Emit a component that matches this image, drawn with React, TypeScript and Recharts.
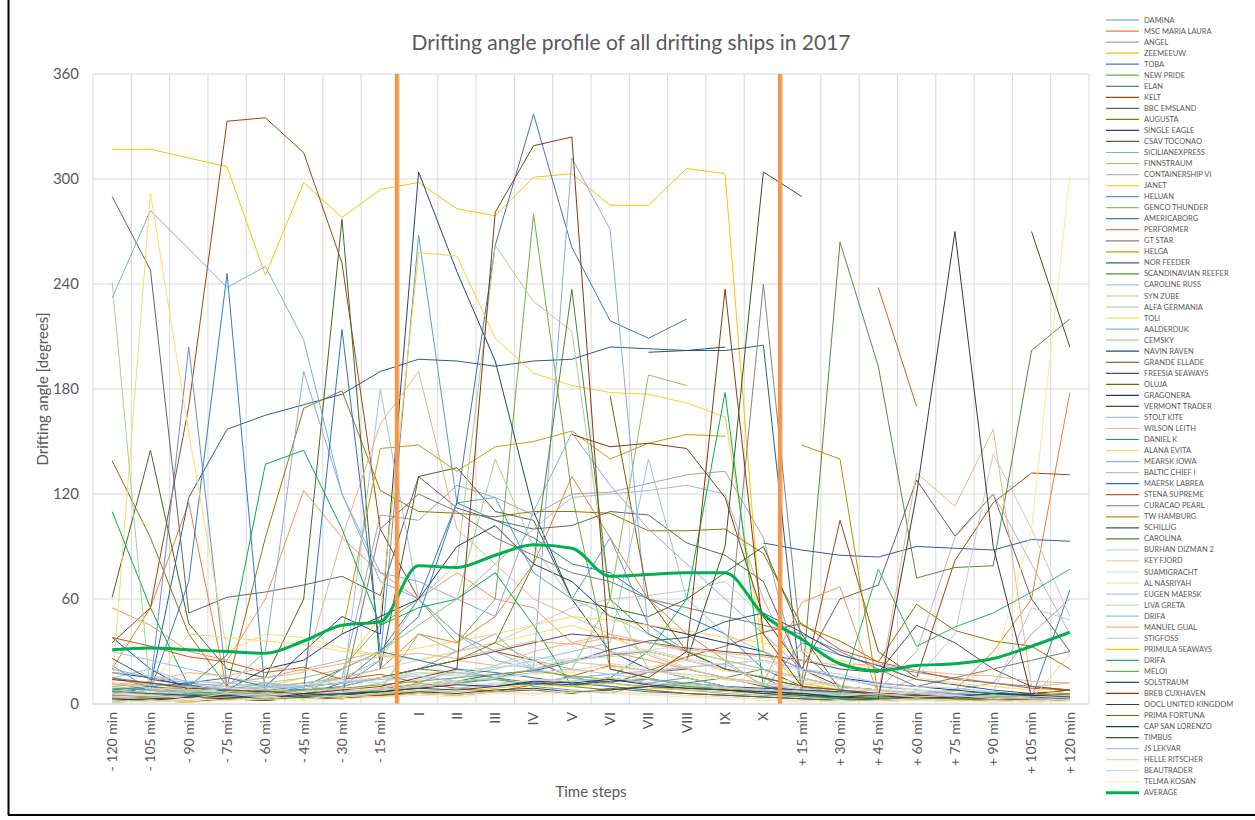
import { LineChart, Line, XAxis, YAxis, CartesianGrid, ReferenceLine } from 'recharts';

const _ = null;

const categories = [
  '- 120 min', '- 105 min', '- 90 min', '- 75 min', '- 60 min', '- 45 min', '- 30 min', '- 15 min',
  'I', 'II', 'III', 'IV', 'V', 'VI', 'VII', 'VIII', 'IX', 'X',
  '+ 15 min', '+ 30 min', '+ 45 min', '+ 60 min', '+ 75 min', '+ 90 min', '+ 105 min', '+ 120 min',
];

const yTicks = [0, 60, 120, 180, 240, 300, 360];

const shipNames = [
  'DAMINA', 'MSC MARIA LAURA', 'ANGEL', 'ZEEMEEUW', 'TOBA', 'NEW PRIDE', 'ELAN', 'KELT', 'BBC EMSLAND', 'AUGUSTA',
  'SINGLE EAGLE', 'CSAV TOCONAO', 'SICILIANEXPRESS', 'FINNSTRAUM', 'CONTAINERSHIP VI', 'JANET', 'HELUAN', 'GENCO THUNDER',
  'AMERICABORG', 'PERFORMER', 'GT STAR', 'HELGA', 'NOR FEEDER', 'SCANDINAVIAN REEFER', 'CAROLINE RUSS', 'SYN ZUBE',
  'ALFA GERMANIA', 'TOLI', 'AALDERDIJK', 'CEMSKY', 'NAVIN RAVEN', 'GRANDE ELLADE', 'FREESIA SEAWAYS', 'OLUJA',
  'GRAGONERA', 'VERMONT TRADER', 'STOLT KITE', 'WILSON LEITH', 'DANIEL K', 'ALANA EVITA', 'MEARSK IOWA', 'BALTIC CHIEF I',
  'MAERSK LABREA', 'STENA SUPREME', 'CURACAO PEARL', 'TW HAMBURG', 'SCHILLIG', 'CAROLINA', 'BURHAN DIZMAN 2', 'KEY FJORD',
  'SUAMIGRACHT', 'AL NASRIYAH', 'EUGEN MAERSK', 'LIVA GRETA', 'DRIFA', 'MANUEL GUAL', 'STIGFOSS', 'PRIMULA SEAWAYS',
  'DRIFA', 'MELOI', 'SOLSTRAUM', 'BREB CUXHAVEN', 'OOCL UNITED KINGDOM', 'PRIMA FORTUNA', 'CAP SAN LORENZO', 'TIMBUS',
  'JS LEKVAR', 'HELLE RITSCHER', 'BEAUTRADER', 'TELMA KOSAN',
];

// drifting angle per ship, one value per time step (null = no record)
const angles: (number | null)[][] = [
  [22, 8, 5, 3, 6, 4, 10, 25, 268, 115, 118, 75, 60, 95, 45, 30, 20, 15, 5, 3, 2, 4, 3, 5, 4, 6],
  [20, 55, 115, 8, 12, 10, 15, 20, 40, 35, 50, 80, 130, 95, 60, 40, 25, 10, 6, 4, 3, 5, 8, 30, 60, 178],
  [8, 6, 5, 7, 9, 12, 15, 108, 105, 125, 118, 108, 120, 121, 126, 131, 133, 95, 10, 5, 4, 6, 8, 12, 40, 60],
  [317, 317, 312, 307, 245, 298, 278, 294, 298, 283, 279, 301, 303, 285, 285, 306, 303, 30, 12, 8, 5, 4, 3, 2, 3, 4],
  [15, 10, 6, 4, 8, 5, 12, 30, 60, 115, 262, 337, 261, 219, 209, 220, _, _, _, _, _, _, _, _, _, _],
  [12, 8, 4, 6, 3, 5, 20, 45, 60, 35, 60, 280, 120, 20, 15, 10, 8, 6, 4, 3, 2, 3, 4, 5, 6, 8],
  [5, 10, 118, 157, 165, 171, 177, 190, 197, 196, 193, 196, 197, 204, 203, 202, 202, 205, 5, 3, 2, 4, 3, 2, 3, 4],
  [35, 55, 170, 333, 335, 315, 252, 100, 60, 40, 30, 25, 15, 12, 18, 20, 15, 10, 8, 105, 30, 15, 82, 115, 132, 131],
  [290, 248, 52, 61, 64, 68, 73, 62, 130, 112, 105, 100, 102, 110, 108, 92, 85, 70, 20, 60, 68, 128, 96, 120, 60, 30],
  [139, 95, 40, 10, 95, 169, 179, 122, 110, 109, 107, 110, 110, 109, 99, 99, 100, 86, 45, 36, 24, 57, 42, 36, 33, 20],
  [38, 20, 8, 5, 10, 30, 50, 40, 304, 247, 196, 110, 60, 30, 20, 15, 10, 8, 5, 4, 3, 6, 5, 4, 3, 5],
  [61, 145, 46, 20, 15, 60, 277, 20, 130, 135, 110, 105, 60, 55, 50, 60, 75, 90, 40, 8, 5, 4, 3, 5, 6, 4],
  [232, 282, 260, 238, 250, 208, 120, 70, 60, 40, 25, 20, 15, 12, 10, 8, 6, 5, 4, 3, 2, 3, 2, 3, 4, 3],
  [55, 45, 30, 25, 60, 122, 95, 75, 60, 75, 60, 55, 35, 30, 25, 20, 15, 12, 58, 67, 5, 4, 3, 6, 5, 8],
  [10, 8, 6, 12, 15, 20, 25, 30, 45, 60, 80, 100, 118, 120, 122, 125, 120, 60, 15, 10, 8, 30, 95, 120, 80, 40],
  [8, 5, 4, 6, 10, 15, 20, 50, 258, 256, 209, 189, 182, 178, 177, 172, 164, 30, 12, 8, 6, 5, 4, 3, 4, 5],
  [6, 10, 204, 10, 8, 5, 3, 6, 12, 20, 15, 10, 8, 6, 12, 15, 10, 8, 35, 28, 22, 18, 15, 12, 10, 8],
  [10, 12, 8, 6, 5, 4, 6, 8, 40, 30, 35, 25, 20, 60, 188, 182, _, _, _, _, _, _, _, _, _, _],
  [5, 8, 70, 246, 5, 10, 20, 30, 50, 115, 105, 95, 80, 75, 60, 50, 40, 20, 10, 6, 4, 3, 5, 4, 3, 65],
  [_, _, _, _, _, _, _, _, _, _, _, _, _, _, _, _, _, _, _, _, 238, 170, _, _, _, _],
  [3, 4, 5, 6, 4, 3, 5, 8, 10, 12, 15, 20, 25, 28, 30, 25, 20, 240, 30, 10, 8, 6, 5, 4, 3, 4],
  [_, _, _, _, _, _, 40, 146, 148, 133, 147, 150, 156, 140, 149, 154, 153, _, _, _, _, _, _, _, _, _],
  [_, _, _, _, _, _, _, _, _, _, _, _, _, _, _, _, _, 92, 88, 85, 84, 90, 89, 88, 94, 93],
  [12, 10, 8, 6, 5, 8, 10, 15, 20, 18, 15, 12, 10, 8, 10, 12, 15, 20, 10, 264, 193, 72, 78, 79, 202, 220],
  [15, 20, 12, 8, 10, 6, 5, 180, 60, 40, 30, 20, 15, 10, 8, 6, 5, 4, 3, 2, 3, 4, 5, 6, 4, 3],
  [8, 6, 5, 4, 3, 5, 8, 12, 20, 25, 22, 30, 35, 40, 28, 20, 15, 12, 10, 8, 6, 132, 113, 157, 10, 12],
  [5, 4, 6, 8, 10, 12, 15, 20, 25, 30, 35, 45, 55, 60, 62, 65, 70, 50, 20, 8, 6, 15, 40, 143, 100, 50],
  [10, 292, 155, 30, 40, 38, 32, 28, 25, 30, 35, 40, 45, 38, 30, 25, 20, 15, 10, 8, 6, 5, 4, 3, 4, 5],
  [4, 6, 8, 5, 4, 6, 10, 15, 20, 30, 40, 20, 312, 271, 40, 30, 20, 15, 10, 8, 6, 5, 4, 3, 2, 3],
  [6, 5, 4, 8, 10, 12, 15, 25, 60, 80, 262, 230, 213, 60, 20, 15, 10, 8, 6, 5, 4, 3, 2, 3, 4, 5],
  [_, _, _, _, _, _, _, _, _, _, _, _, _, _, 201, 202, 204, _, _, _, _, _, _, _, _, _],
  [_, _, _, _, _, _, _, _, _, _, _, _, 154, 147, 149, 146, 118, 50, 20, 10, 8, 6, 5, 4, 6, 8],
  [3, 5, 4, 6, 8, 10, 12, 15, 20, 25, 30, 35, 40, 38, 35, 32, 30, 28, 25, 20, 18, 45, 35, 20, 10, 8],
  [_, _, _, _, _, _, _, _, _, _, _, _, _, 176, 60, 30, 20, 15, 10, 8, 6, 5, 4, 3, 4, 5],
  [18, 15, 10, 8, 20, 25, 40, 50, 60, 90, 102, 80, 70, 50, 45, 40, 35, 30, 20, 15, 12, 10, 8, 6, 5, 4],
  [_, _, _, _, _, _, _, _, _, _, _, _, _, _, _, 25, 90, 304, 290, _, _, _, _, _, _, _],
  [30, 25, 20, 15, 12, 10, 8, 6, 10, 15, 20, 25, 30, 35, 140, 60, 40, 30, 20, 15, 10, 8, 6, 5, 4, 3],
  [5, 8, 10, 12, 15, 18, 95, 160, 190, 100, 80, 60, 50, 40, 35, 30, 25, 20, 15, 10, 8, 6, 5, 4, 3, 5],
  [110, 55, 10, 28, 137, 145, 100, 45, 55, 60, 75, 45, 10, 15, 30, 60, 178, 10, 5, 3, 4, 5, 6, 7, 5, 4],
  [12, 10, 40, 38, 36, 34, 30, 28, 32, 36, 40, 45, 50, 48, 45, 42, 38, 35, 30, 25, 20, 15, 12, 10, 8, 6],
  [20, 15, 12, 10, 30, 190, 120, 75, 70, 60, 50, 110, 155, 125, 100, 80, 60, 40, 20, 15, 10, 8, 6, 5, 4, 3],
  [241, 5, 8, 10, 12, 15, 20, 30, 45, 60, 140, 90, 60, 50, 40, 30, 25, 20, 15, 10, 8, 6, 5, 4, 3, 2],
  [8, 10, 12, 15, 10, 8, 214, 30, 25, 20, 18, 15, 12, 10, 8, 6, 5, 4, 3, 2, 3, 4, 5, 6, 5, 4],
  [38, 33, 27, 24, 18, 21, 14, 17, 12, 9, 7, 11, 16, 22, 19, 27, 33, 41, 46, 31, 24, 19, 14, 12, 9, 8],
  [15, 12, 10, 8, 6, 5, 4, 100, 120, 110, 95, 85, 75, 70, 60, 55, 50, 45, 40, 30, 20, 10, 15, 20, 25, 30],
  [_, _, _, _, _, _, _, _, _, _, _, _, _, _, _, _, _, _, 148, 140, 5, 4, 3, 2, 3, 4],
  [26, 14, 11, 7, 6, 4, 5, 9, 11, 13, 17, 19, 24, 31, 36, 38, 47, 52, 41, 28, 22, 14, 11, 8, 6, 5],
  [4, 3, 5, 6, 8, 10, 12, 15, 20, 25, 35, 80, 237, 60, 40, 30, 20, 15, 10, 8, 6, 5, 4, 3, 5, 6],
  [3, 5, 4, 7, 9, 11, 14, 12, 18, 16, 22, 27, 24, 29, 31, 26, 22, 19, 14, 9, 8, 7, 5, 4, 3, 2],
  [12, 9, 8, 6, 5, 4, 6, 9, 12, 11, 15, 17, 19, 23, 21, 25, 19, 16, 12, 11, 7, 6, 5, 4, 3, 28],
  [5, 7, 6, 9, 8, 11, 13, 15, 18, 17, 21, 24, 26, 29, 31, 33, 28, 24, 19, 14, 11, 8, 7, 5, 4, 3],
  [6, 5, 4, 3, 4, 5, 7, 8, 11, 13, 15, 17, 18, 21, 19, 16, 14, 12, 10, 8, 6, 9, 12, 20, 100, 302],
  [14, 11, 10, 8, 6, 5, 4, 6, 7, 9, 12, 13, 15, 17, 18, 21, 23, 25, 20, 17, 12, 10, 9, 7, 55, 48],
  [3, 2, 4, 6, 7, 10, 12, 15, 17, 19, 21, 22, 25, 27, 29, 21, 14, 11, 8, 6, 5, 4, 3, 2, 3, 4],
  [18, 16, 13, 12, 10, 9, 6, 4, 6, 9, 11, 12, 15, 17, 19, 21, 23, 11, 8, 6, 5, 4, 3, 2, 3, 4],
  [11, 13, 18, 16, 21, 19, 23, 27, 29, 26, 31, 36, 34, 38, 35, 31, 29, 27, 25, 22, 23, 19, 17, 16, 13, 12],
  [4, 3, 5, 4, 6, 5, 7, 9, 14, 18, 16, 20, 24, 22, 19, 17, 15, 12, 9, 7, 8, 6, 5, 4, 3, 2],
  [2, 3, 2, 4, 3, 5, 4, 6, 8, 7, 9, 11, 10, 12, 9, 8, 7, 6, 5, 4, 3, 2, 3, 2, 1, 2],
  [9, 8, 7, 6, 5, 4, 6, 8, 10, 12, 14, 11, 13, 15, 12, 10, 9, 7, 6, 5, 77, 33, 44, 52, 64, 77],
  [5, 4, 6, 5, 7, 8, 9, 11, 13, 15, 17, 19, 16, 14, 12, 11, 9, 8, 7, 6, 5, 4, 3, 4, 5, 6],
  [7, 6, 5, 4, 3, 5, 6, 7, 9, 8, 10, 12, 11, 13, 14, 12, 10, 9, 8, 7, 6, 5, 4, 3, 4, 5],
  [14, 12, 9, 8, 7, 6, 8, 10, 15, 20, 281, 319, 324, 20, 15, 30, 237, 40, 10, 8, 6, 5, 4, 6, 5, 4],
  [2, 3, 4, 3, 2, 4, 3, 5, 7, 6, 8, 9, 7, 8, 10, 9, 8, 6, 5, 4, 3, 120, 270, 90, 4, 3],
  [1, 2, 1, 3, 2, 4, 3, 5, 6, 5, 7, 8, 6, 9, 7, 6, 5, 4, 3, 2, 3, 4, 3, 2, 3, 2],
  [3, 2, 4, 5, 3, 6, 5, 7, 9, 11, 10, 13, 12, 14, 11, 9, 8, 7, 6, 4, 5, 3, 4, 6, 5, 4],
  [_, _, _, _, _, _, _, _, _, _, _, _, _, _, _, _, _, _, _, _, _, _, _, _, 270, 204],
  [6, 8, 7, 9, 11, 10, 12, 14, 16, 13, 15, 18, 20, 17, 14, 12, 10, 8, 7, 6, 5, 6, 4, 5, 3, 4],
  [4, 5, 3, 6, 5, 7, 9, 8, 10, 12, 11, 14, 13, 15, 12, 11, 9, 8, 7, 5, 6, 4, 5, 3, 4, 5],
  [2, 1, 3, 2, 4, 3, 5, 4, 6, 5, 7, 6, 8, 7, 6, 5, 4, 3, 2, 1, 2, 3, 2, 1, 2, 3],
  [1, 2, 1, 2, 3, 2, 3, 4, 5, 4, 6, 5, 7, 6, 5, 4, 3, 2, 1, 2, 1, 2, 1, 2, 1, 2],
];

const average = [31, 32, 31, 30, 29, 36, 45, 47, 79, 78, 85, 91, 89, 73, 74, 75, 75, 51, 37, 23, 19, 22, 23, 26, 33, 41];

// phase markers (start / end of drifting), in category units
const phaseMarks = [7.93, 17.93];

const shipColors = [
  '#5B9BD5', '#ED7D31', '#A5A5A5', '#FFC000', '#4472C4', '#70AD47', '#255E91', '#9E480E', '#636363', '#997300',
  '#264478', '#43682B', '#7CAFDD', '#F1975A', '#B7B7B7', '#FFCD33', '#698ED0', '#8CC168', '#327DC2', '#D26012',
  '#848484', '#CC9A00', '#335AA1', '#5A8A39', '#9DC3E6', '#F4B183', '#C9C9C9', '#FFD966', '#8FAADC', '#A9D18E',
  '#1F4E79', '#843C0C', '#525252', '#7F6000', '#203864', '#385723', '#9DC3E6', '#F4B183', '#00B050', '#FFD966',
  '#8FAADC', '#A9D18E', '#2E75B6', '#C55A11', '#7B7B7B', '#BF9000', '#2F5597', '#538135', '#BDD7EE', '#F8CBAD',
  '#DBDBDB', '#FFE699', '#B4C7E7', '#C5E0B4', '#9DC3E6', '#F4B183', '#C9C9C9', '#FFC000', '#2DB35B', '#70AD47',
  '#1F4E79', '#843C0C', '#3A3A3A', '#7F6000', '#203864', '#385723', '#9DC3E6', '#F8CBAD', '#D9D9D9', '#FFE699',
];

const data = categories.map((step, i) => {
  const row: any = { step, pos: i + 0.5, AVERAGE: average[i] };
  angles.forEach((vals, s) => {
    row[`s${s}`] = vals[i];
  });
  return row;
});

const font = 'Lato, "Open Sans", sans-serif';
const textGray = '#595959';

// half of one category slot, so points sit in the middle of each slot
const halfSlot = 996 / categories.length / 2;

const StepTick = ({ x, y, payload }: any) => (
  <text
    x={x}
    y={y}
    transform={`rotate(-90, ${x}, ${y})`}
    textAnchor="end"
    dy="0.35em"
    fontSize={14}
    fill={textGray}
    fontFamily={font}
  >
    {payload.value}
  </text>
);

const legendItems = [...shipNames.map((n, i) => ({ name: n, color: shipColors[i], w: 1.2 })), { name: 'AVERAGE', color: '#00B050', w: 3 }];

export default function App() {
  return (
    <div style={{ position: 'absolute', left: 0, top: 0, width: 1255, height: 820, background: '#fff', overflow: 'hidden' }}>
      <LineChart width={1255} height={820} data={data} margin={{ top: 74, right: 166, bottom: 0, left: 0 }}>
        <XAxis xAxisId="num" dataKey="pos" type="number" domain={[0, 26]} ticks={categories.map((_c, i) => i).concat([26])} hide allowDataOverflow />
        <CartesianGrid xAxisId="num" stroke="#D9D9D9" strokeWidth={1} />
        <XAxis
          dataKey="step"
          interval={0}
          height={116}
          padding={{ left: halfSlot, right: halfSlot }}
          tickLine={false}
          axisLine={{ stroke: '#D9D9D9' }}
          tick={<StepTick />}
        />
        <YAxis
          domain={[0, 360]}
          ticks={yTicks}
          width={93}
          axisLine={false}
          tickLine={false}
          tickMargin={8}
          tick={{ fontSize: 15, fill: textGray, fontFamily: font }}
        />
        {angles.map((_v, s) => (
          <Line
            key={s}
            dataKey={`s${s}`}
            name={shipNames[s]}
            stroke={shipColors[s]}
            strokeWidth={1}
            dot={false}
            type="linear"
            isAnimationActive={false}
          />
        ))}
        <Line dataKey="AVERAGE" stroke="#00B050" strokeWidth={3} dot={false} type="monotone" isAnimationActive={false} />
        {phaseMarks.map((m) => (
          <ReferenceLine key={m} xAxisId="num" x={m} stroke="#F79646" strokeWidth={4} ifOverflow="visible" />
        ))}
      </LineChart>

      <svg width={1255} height={820} style={{ position: 'absolute', left: 0, top: 0, pointerEvents: 'none' }}>
        <line x1={8.5} y1={0} x2={8.5} y2={815} stroke="#000" strokeWidth={2} />
        <line x1={8} y1={815} x2={1255} y2={815} stroke="#000" strokeWidth={2} />
        <text x={631} y={41} textAnchor="middle" dominantBaseline="central" fontSize={21} fill={textGray} fontFamily={font}>
          Drifting angle profile of all drifting ships in 2017
        </text>
        <text x={591} y={791} textAnchor="middle" dominantBaseline="central" fontSize={15} fill={textGray} fontFamily={font}>
          Time steps
        </text>
        <text
          x={42}
          y={389}
          textAnchor="middle"
          dominantBaseline="central"
          fontSize={15}
          fill={textGray}
          fontFamily={font}
          transform="rotate(-90, 42, 389)"
        >
          Drifting angle [degrees]
        </text>
        {legendItems.map((it, k) => {
          const cy = 20 + k * 11.04;
          return (
            <g key={k}>
              <line x1={1106} y1={cy} x2={1139} y2={cy} stroke={it.color} strokeWidth={it.w} />
              <text x={1144} y={cy} dominantBaseline="central" fontSize={7.5} fill={textGray} fontFamily={font}>
                {it.name}
              </text>
            </g>
          );
        })}
      </svg>
    </div>
  );
}
